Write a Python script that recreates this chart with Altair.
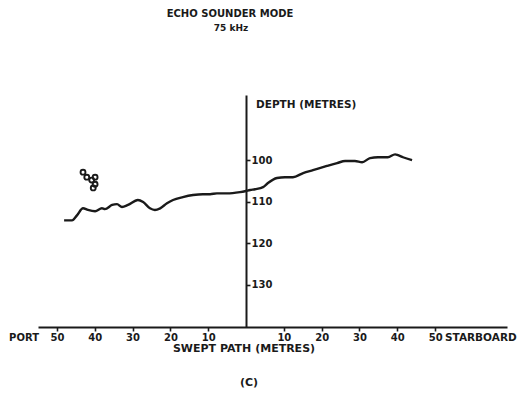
import altair as alt
import pandas as pd

# ---- data ----
sweep_m = [-48.1, -46.0, -44.7, -43.1, -41.8, -39.9, -38.1, -37.3, -35.4, -34.1,
           -32.8, -31.2, -28.6, -27.2, -25.4, -24.1, -22.7, -20.9, -19.3, -16.7,
           -14.0, -11.4, -9.5, -7.7, -5.0, -1.6, -0.3, 1.1, 2.4, 4.5,
           5.8, 8.2, 10.3, 12.4, 15.1, 17.7, 21.4, 24.1, 26.2, 28.8,
           30.7, 32.8, 34.9, 37.5, 39.4, 40.2, 41.5, 43.9]
depth_m = [114.5, 114.5, 113.3, 111.6, 112.0, 112.3, 111.6, 111.8, 110.8, 110.6,
           111.3, 110.8, 109.6, 110.1, 111.6, 112.0, 111.6, 110.4, 109.6, 108.9,
           108.4, 108.2, 108.2, 108.0, 108.0, 107.7, 107.5, 107.2, 107.0, 106.5,
           105.5, 104.3, 104.1, 104.1, 103.1, 102.4, 101.4, 100.7, 100.2, 100.2,
           100.5, 99.5, 99.3, 99.3, 98.6, 98.8, 99.3, 100.0]

echo_x = [-43.1, -42.1, -40.8, -39.9, -39.9, -40.4]
echo_y = [102.9, 104.1, 104.8, 104.1, 105.8, 106.7]

x_ticks = [-50, -40, -30, -20, -10, 10, 20, 30, 40, 50]
y_ticks = [100, 110, 120, 130]

title_lines = ["ECHO SOUNDER MODE", "75 kHz"]
y_title = ["DEPTH (METRES)"]
x_title = ["SWEPT PATH (METRES)"]
side_labels = ["PORT", "STARBOARD"]
panel_label = ["(C)"]

INK = "#1a1a1a"
FONT = "DejaVu Sans"

xs = alt.Scale(domain=[-55, 69], nice=False, zero=False)
ys = alt.Scale(domain=[84.3, 140.2], reverse=True, nice=False, zero=False)

profile = pd.DataFrame({"sweep": sweep_m, "depth": depth_m})
echoes = pd.DataFrame({"sweep": echo_x, "depth": echo_y})

line = alt.Chart(profile).mark_line(
    color=INK, strokeWidth=2.4, interpolate="monotone"
).encode(
    x=alt.X("sweep:Q", scale=xs,
            axis=alt.Axis(values=x_ticks, labelExpr="'' + abs(datum.value)",
                          title=None, grid=False, domainColor=INK, domainWidth=2,
                          tickColor=INK, tickWidth=1.6, tickSize=4,
                          labelColor=INK, labelFont=FONT, labelFontSize=10,
                          labelFontWeight="bold", labelPadding=1)),
    y=alt.Y("depth:Q", scale=ys,
            axis=alt.Axis(orient="right", offset=-261, values=y_ticks,
                          title=None, grid=False, domainColor=INK, domainWidth=2,
                          tickColor=INK, tickWidth=1.6, tickSize=4,
                          labelColor=INK, labelFont=FONT, labelFontSize=10,
                          labelFontWeight="bold", labelPadding=1)),
)

echo_pts = alt.Chart(echoes).mark_point(
    shape="circle", filled=False, size=24, strokeWidth=1.9, color=INK, opacity=1
).encode(x=alt.X("sweep:Q", scale=xs), y=alt.Y("depth:Q", scale=ys))


def label(text, x, y, align="center", size=10):
    return alt.Chart(pd.DataFrame({"t": [text]})).mark_text(
        align=align, baseline="middle", font=FONT, fontWeight="bold",
        fontSize=size, color=INK
    ).encode(x=alt.value(x), y=alt.value(y), text="t:N")


texts = [
    label(title_lines[0], 192, -81, size=10),
    label(title_lines[1], 193, -67, size=9),
    label(y_title[0], 218, 10, align="left", size=10.5),
    label(side_labels[0], 1, 243, align="right"),
    label(side_labels[1], 407, 243, align="left", size=10.5),
    label(x_title[0], 206, 254, size=11),
    label(panel_label[0], 211, 288, size=11),
]

chart = alt.layer(line, echo_pts, *texts).properties(
    width=469, height=232,
    padding={"left": 30, "top": 87, "right": 16, "bottom": 72},
    autosize=alt.AutoSizeParams(type="none"),
    background="white",
).configure_view(stroke=None)

chart.save("out.html", embed_options={"renderer": "svg", "actions": False})
